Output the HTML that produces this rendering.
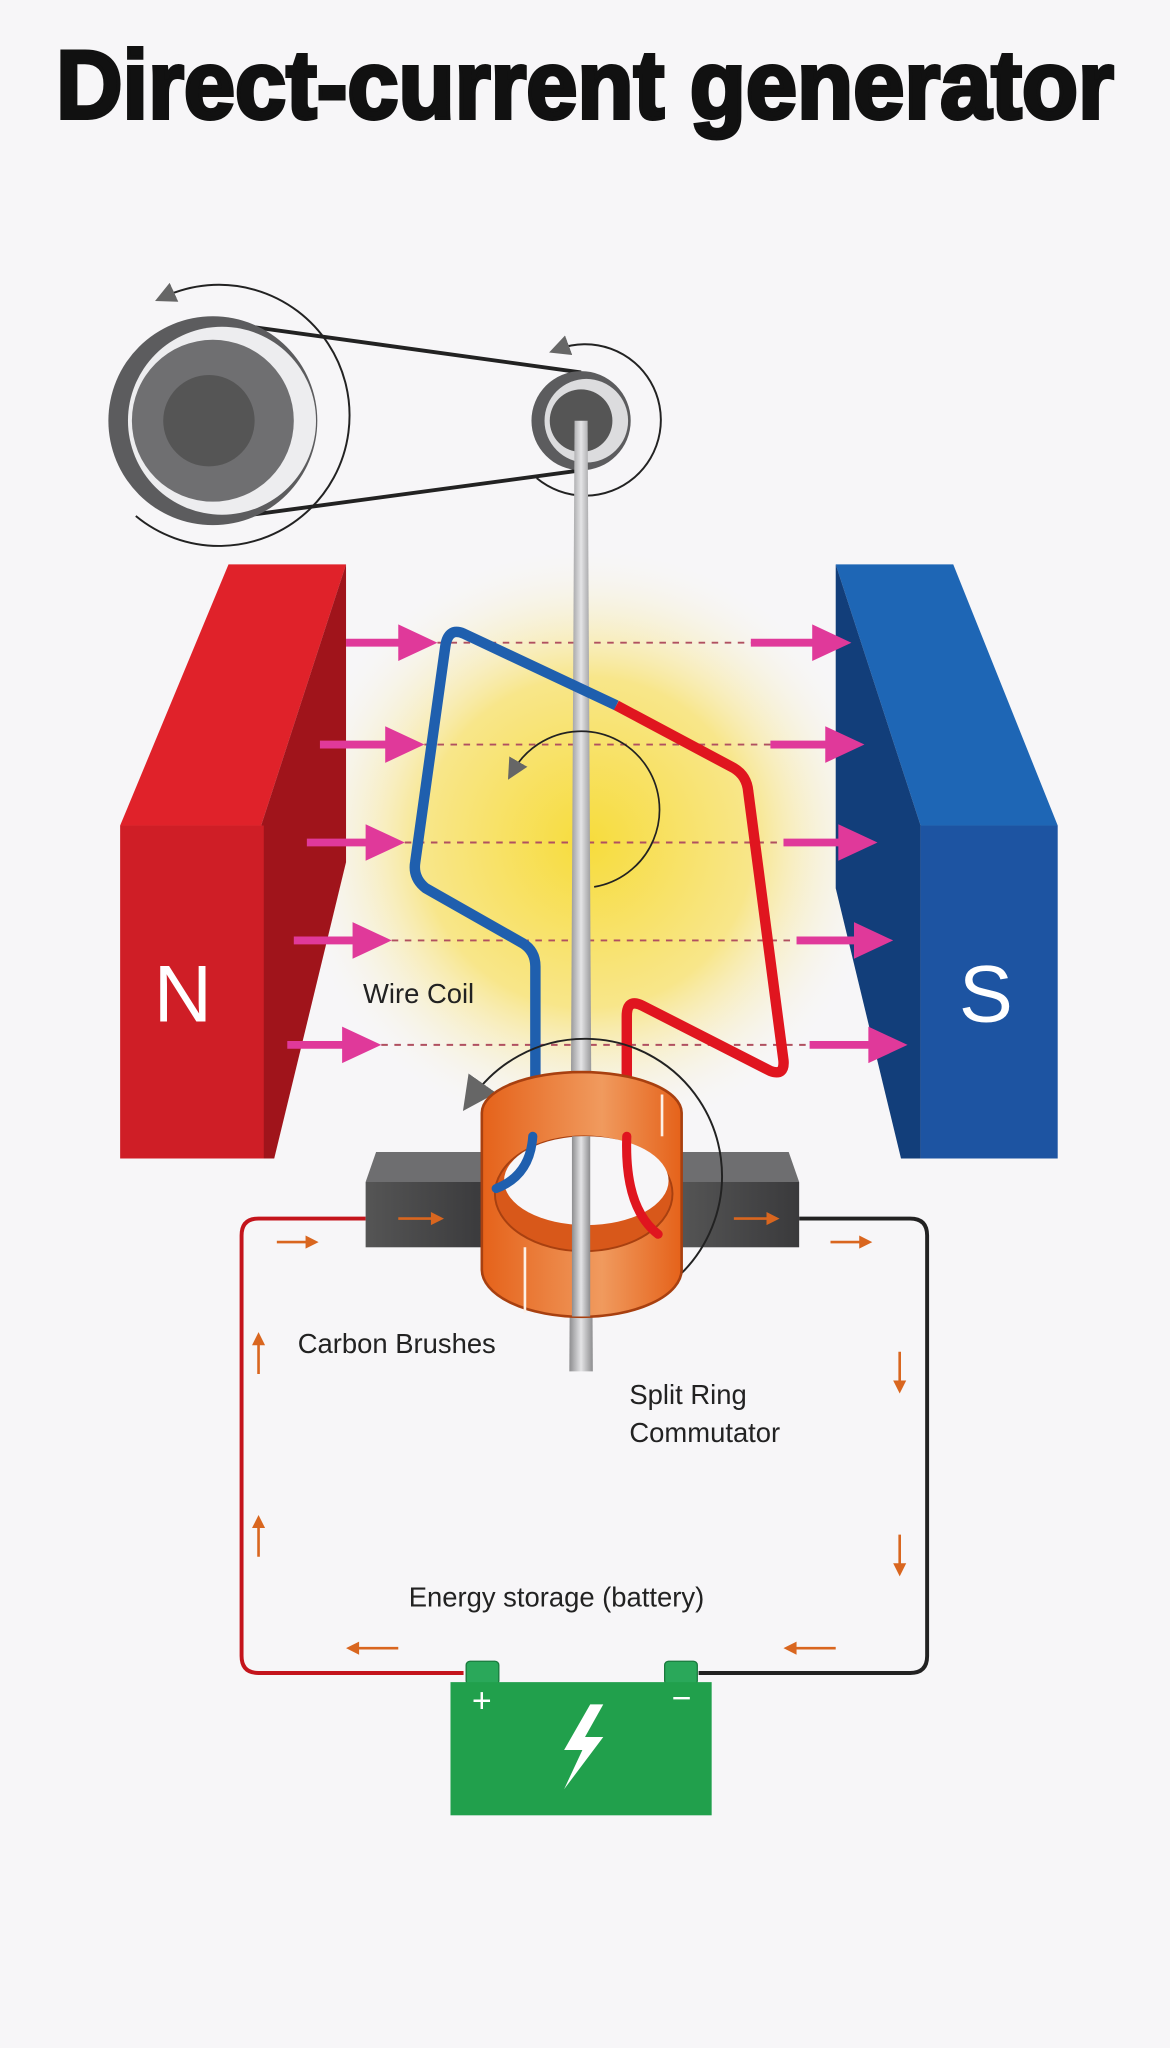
<!DOCTYPE html>
<html><head><meta charset="utf-8"><style>
html,body{margin:0;padding:0;background:#f7f6f8;}
svg{display:block}
text{font-family:"Liberation Sans",sans-serif;}
</style></head><body>
<svg width="1170" height="2048" viewBox="0 0 896 1568" xmlns="http://www.w3.org/2000/svg">
<defs>
<radialGradient id="glow" cx="0.5" cy="0.5" r="0.5">
<stop offset="0" stop-color="#f7dc3c"/><stop offset="0.55" stop-color="#f8e68a"/><stop offset="1" stop-color="#f7f6f8" stop-opacity="0"/>
</radialGradient>
<linearGradient id="shaft" x1="0" x2="1"><stop offset="0" stop-color="#8d8d8f"/><stop offset="0.5" stop-color="#e4e4e6"/><stop offset="1" stop-color="#8d8d8f"/></linearGradient>
<linearGradient id="cu" x1="0" x2="1"><stop offset="0" stop-color="#e5621a"/><stop offset="0.6" stop-color="#f09a5e"/><stop offset="1" stop-color="#e5621a"/></linearGradient>
<linearGradient id="brush" x1="0" x2="1"><stop offset="0" stop-color="#555"/><stop offset="1" stop-color="#3a3a3c"/></linearGradient>
<marker id="ah" viewBox="0 0 10 10" refX="5" refY="5" markerUnits="userSpaceOnUse" markerWidth="16" markerHeight="16" orient="auto"><path d="M0,0L10,5L0,10z" fill="#666"/></marker>
<marker id="ahb" viewBox="0 0 10 10" refX="5" refY="5" markerUnits="userSpaceOnUse" markerWidth="26" markerHeight="26" orient="auto"><path d="M0,0L10,5L0,10z" fill="#666"/></marker>
</defs>
<rect width="896" height="1568" fill="#f7f6f8"/>
<text x="448" y="90" text-anchor="middle" font-size="74" font-weight="bold" textLength="810" lengthAdjust="spacingAndGlyphs" fill="#111" stroke="#111" stroke-width="3">Direct-current generator</text>

<ellipse cx="450" cy="645" rx="230" ry="230" fill="url(#glow)"/>

<line x1="163" y1="246" x2="445" y2="285" stroke="#222" stroke-width="3"/>
<line x1="163" y1="398" x2="445" y2="360" stroke="#222" stroke-width="3"/>
<circle cx="163" cy="322" r="80" fill="#5c5c5e"/>
<circle cx="170" cy="322" r="72" fill="#ededef"/>
<circle cx="163" cy="322" r="62" fill="#6f6f71"/>
<circle cx="160" cy="322" r="35" fill="#555"/>
<circle cx="445" cy="322" r="38" fill="#5c5c5e"/>
<circle cx="449" cy="322" r="32" fill="#dcdcde"/>
<circle cx="445" cy="322" r="24" fill="#555"/>
<path d="M104,395 A100,100 0 1 0 126,227" fill="none" stroke="#222" stroke-width="1.5" marker-end="url(#ah)"/>
<path d="M411,366 A58,58 0 1 0 428,267" fill="none" stroke="#222" stroke-width="1.5" marker-end="url(#ah)"/>

<polygon points="92,632 175,432 265,432 200,632" fill="#e0222a"/>
<polygon points="200,632 265,432 265,660 210,887 200,887" fill="#a0141b"/>
<rect x="92" y="632" width="110" height="255" fill="#cf1e26"/>
<text x="140" y="782" text-anchor="middle" font-size="62" fill="#fff">N</text>
<polygon points="640,432 730,432 810,632 705,632" fill="#1e66b5"/>
<polygon points="640,432 705,632 705,887 690,887 640,680" fill="#123e7a"/>
<rect x="705" y="632" width="105" height="255" fill="#1d54a2"/>
<text x="755" y="782" text-anchor="middle" font-size="62" fill="#fff">S</text>

<g stroke="#b05060" stroke-width="1.5" stroke-dasharray="5,5">
<line x1="335" y1="492" x2="580" y2="492"/><line x1="325" y1="570" x2="590" y2="570"/>
<line x1="310" y1="645" x2="600" y2="645"/><line x1="300" y1="720" x2="610" y2="720"/>
<line x1="292" y1="800" x2="620" y2="800"/>
</g>
<g fill="#e0399a">
<path d="M265,489h40v-11l30,14l-30,14v-11h-40z"/>
<path d="M245,567h50v-11l30,14l-30,14v-11h-50z"/>
<path d="M235,642h45v-11l30,14l-30,14v-11h-45z"/>
<path d="M225,717h45v-11l30,14l-30,14v-11h-45z"/>
<path d="M220,797h42v-11l30,14l-30,14v-11h-42z"/>
<path d="M575,489h47v-11l30,14l-30,14v-11h-47z"/>
<path d="M590,567h42v-11l30,14l-30,14v-11h-42z"/>
<path d="M600,642h42v-11l30,14l-30,14v-11h-42z"/>
<path d="M610,717h44v-11l30,14l-30,14v-11h-44z"/>
<path d="M620,797h45v-11l30,14l-30,14v-11h-45z"/>
</g>

<polygon points="440,322 450,322 454,1050 436,1050" fill="url(#shaft)"/>

<path d="M472,540 L355,485 Q343,480 341,495 L318,660 Q316,672 326,680 L400,722 Q410,728 410,740 L410,870" fill="none" stroke="#1f5fae" stroke-width="8" stroke-linejoin="round"/>
<path d="M472,540 L562,588 Q572,594 573,606 L600,812 Q601,824 590,820 L492,770 Q480,764 480,778 L480,870" fill="none" stroke="#e0151f" stroke-width="8" stroke-linejoin="round"/>
<path d="M455,679 A60,60 0 1 0 393,590" fill="none" stroke="#222" stroke-width="1.3" marker-end="url(#ah)"/>

<path d="M280,933 H198 Q185,933 185,946 V1268 Q185,1281 198,1281 H355" fill="none" stroke="#c4141c" stroke-width="3"/>
<path d="M612,933 H697 Q710,933 710,946 V1268 Q710,1281 697,1281 H535" fill="none" stroke="#222" stroke-width="3"/>
<g fill="#d9661f">
<path d="M212,950h22v-4l10,5l-10,5v-4h-22z"/>
<path d="M636,950h22v-4l10,5l-10,5v-4h-22z"/>
<path d="M197,1052v-22h-4l5,-10l5,10h-4v22z"/>
<path d="M197,1192v-22h-4l5,-10l5,10h-4v22z"/>
<path d="M688,1035v22h-4l5,10l5,-10h-4v-22z"/>
<path d="M688,1175v22h-4l5,10l5,-10h-4v-22z"/>
<path d="M305,1261h-30v-4l-10,5l10,5v-4h30z"/>
<path d="M640,1261h-30v-4l-10,5l10,5v-4h30z"/>
</g>

<polygon points="288,882 372,882 372,905 280,905" fill="#6e6e70"/>
<rect x="280" y="905" width="92" height="50" fill="url(#brush)"/>
<polygon points="520,882 604,882 612,905 520,905" fill="#6e6e70"/>
<rect x="520" y="905" width="92" height="50" fill="url(#brush)"/>
<path d="M305,932h25v-4l10,5l-10,5v-4h-25z" fill="#d9661f"/>
<path d="M562,932h25v-4l10,5l-10,5v-4h-25z" fill="#d9661f"/>

<path d="M470,1003 A105,105 0 1 0 362,840" fill="none" stroke="#222" stroke-width="1.5" marker-end="url(#ahb)"/>

<path d="M369,852 A76,31 0 0 1 522,852 L522,972 A76,36 0 0 1 369,972 Z" fill="url(#cu)" stroke="#a84010" stroke-width="2"/>
<ellipse cx="447" cy="914" rx="68" ry="44" fill="#d8581a" stroke="#a84010" stroke-width="1.5"/>
<ellipse cx="449" cy="904" rx="63" ry="34" fill="#f7f6f8"/>
<rect x="438" y="870" width="14" height="138" fill="url(#shaft)"/>
<path d="M408,870 Q406,900 380,910" fill="none" stroke="#1f5fae" stroke-width="7" stroke-linecap="round"/>
<path d="M480,870 Q478,925 504,945" fill="none" stroke="#e0151f" stroke-width="7" stroke-linecap="round"/>
<line x1="402" y1="955" x2="402" y2="1005" stroke="#fdf0e6" stroke-width="2"/>
<line x1="507" y1="838" x2="507" y2="870" stroke="#fdf0e6" stroke-width="2"/>

<rect x="357" y="1272" width="25" height="18" rx="3" fill="#2aa85a" stroke="#1a7a3e"/>
<rect x="509" y="1272" width="25" height="18" rx="3" fill="#2aa85a" stroke="#1a7a3e"/>
<rect x="345" y="1288" width="200" height="102" fill="#21a04c"/>
<text x="369" y="1311" text-anchor="middle" font-size="26" fill="#fff">+</text>
<text x="522" y="1309" text-anchor="middle" font-size="26" fill="#fff">−</text>
<path d="M452,1305 L432,1340 L446,1340 L432,1370 L462,1330 L448,1330 L462,1305z" fill="#fff"/>

<g font-size="21" fill="#222">
<text x="278" y="768">Wire Coil</text>
<text x="228" y="1036">Carbon Brushes</text>
<text x="482" y="1075">Split Ring</text>
<text x="482" y="1104">Commutator</text>
<text x="313" y="1230">Energy storage (battery)</text>
</g>
</svg>
</body></html>
